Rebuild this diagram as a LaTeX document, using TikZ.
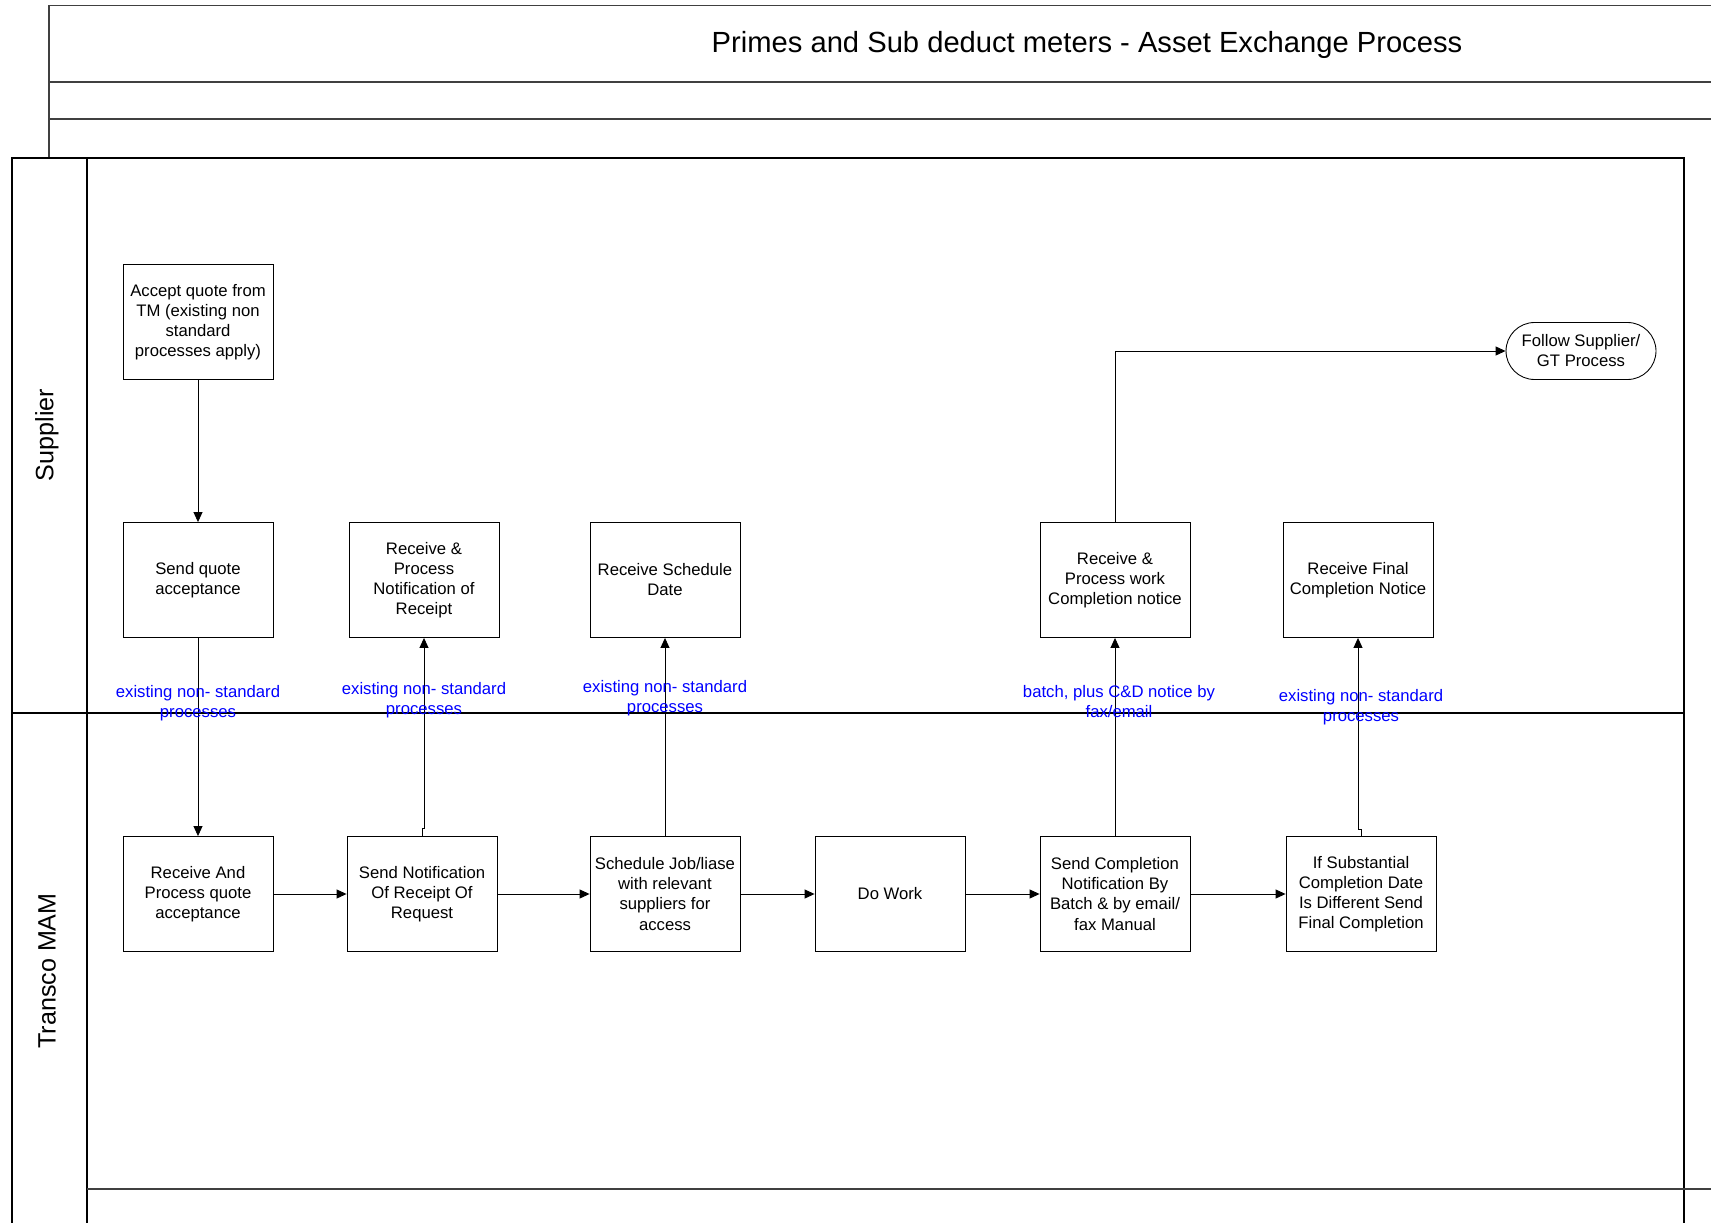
\documentclass[tikz,border=0pt]{standalone}
\usepackage{fontspec}
\setmainfont{Liberation Sans}
\usetikzlibrary{arrows.meta,positioning}

\begin{document}
\begin{tikzpicture}[x=0.02cm, y=-0.02cm,
    >={Triangle[length=0.2cm,width=0.18cm]},
    box/.style={draw, line width=0.5pt, minimum width=3cm, minimum height=2.3cm,
        align=center, inner sep=1pt, font=\fontsize{9.5}{11.4}\selectfont},
    term/.style={box, minimum height=1.14cm, rounded corners=0.57cm},
    note/.style={align=center, text=blue, inner sep=0pt, font=\fontsize{9.5}{11.4}\selectfont},
    lane/.style={rotate=90, font=\fontsize{14.3}{17}\selectfont},
    frame/.style={draw=black!75, line width=0.8pt},
    flow/.style={->, line width=0.5pt}]
    \useasboundingbox (0,0) rectangle (1711,1223);

    % title block
    \draw[frame] (1711,5.7) -- (49,5.7) -- (49,158);
    \draw[frame] (49,82) -- (1711,82);
    \draw[frame] (49,119) -- (1711,119);
    \node[font=\fontsize{16.6}{20}\selectfont] (title) at (1087,45)
        {Primes and Sub deduct meters - Asset Exchange Process};

    % pool and lanes
    \draw[line width=0.6pt] (12,1223) -- (12,158) -- (1684,158) -- (1684,1223);
    \draw[line width=0.6pt] (87,158) -- (87,1223);
    \draw[line width=0.6pt] (12,713) -- (1684,713);
    \draw[frame] (87,1189) -- (1711,1189);
    \node[lane] (sup) at (47,435) {Supplier};
    \node[lane] (mam) at (47,971) {Transco MAM};

    % Supplier lane
    \node[box] (acc) at (198,322) {Accept quote from\\TM (existing non\\standard\\processes apply)};
    \node[box] (sqa) at (198,580) {Send quote\\acceptance};
    \node[box] (rpn) at (424,580) {Receive \&\\Process\\Notification of\\Receipt};
    \node[box] (rsd) at (665,580) {Receive Schedule\\Date};
    \node[box] (rpw) at (1115,580) {Receive \&\\Process work\\Completion notice};
    \node[box] (rfc) at (1358,580) {Receive Final\\Completion Notice};
    \node[term] (follow) at (1581,351) {Follow Supplier/\\GT Process};

    % Transco MAM lane
    \node[box] (rpa) at (198,894) {Receive And\\Process quote\\acceptance};
    \node[box] (snr) at (422,894) {Send Notification\\Of Receipt Of\\Request};
    \node[box] (sj) at (665,894) {Schedule Job/liase\\with relevant\\suppliers for\\access};
    \node[box] (dw) at (890,894) {Do Work};
    \node[box] (scn) at (1115,894) {Send Completion\\Notification By\\Batch \& by email/\\fax Manual};
    \node[box] (isd) at (1361,894) {If Substantial\\Completion Date\\Is Different Send\\Final Completion};

    % connectors
    \draw[flow] (acc) -- (sqa);
    \draw[flow] (sqa) -- (rpa);
    \draw[flow] (rpa) -- (snr);
    \draw[flow] (snr) -- (sj);
    \draw[flow] (sj) -- (dw);
    \draw[flow] (dw) -- (scn);
    \draw[flow] (scn) -- (isd);
    \draw[flow] (snr.north) -- ++(0,-8) -| (rpn.south);
    \draw[flow] (sj) -- (rsd);
    \draw[flow] (scn) -- (rpw);
    \draw[flow] (isd.north) -- ++(0,-7) -| (rfc.south);
    \draw[flow] (rpw.north) |- (follow.west);

    % notes on the hand-offs
    \node[note] (n1) at (198,703) {existing non- standard\\processes};
    \node[note] (n2) at (424,700) {existing non- standard\\processes};
    \node[note] (n3) at (665,698) {existing non- standard\\processes};
    \node[note] (n4) at (1119,702) {batch, plus C\&D notice by\\fax/email};
    \node[note] (n5) at (1361,707) {existing non- standard\\processes};
\end{tikzpicture}
\end{document}
